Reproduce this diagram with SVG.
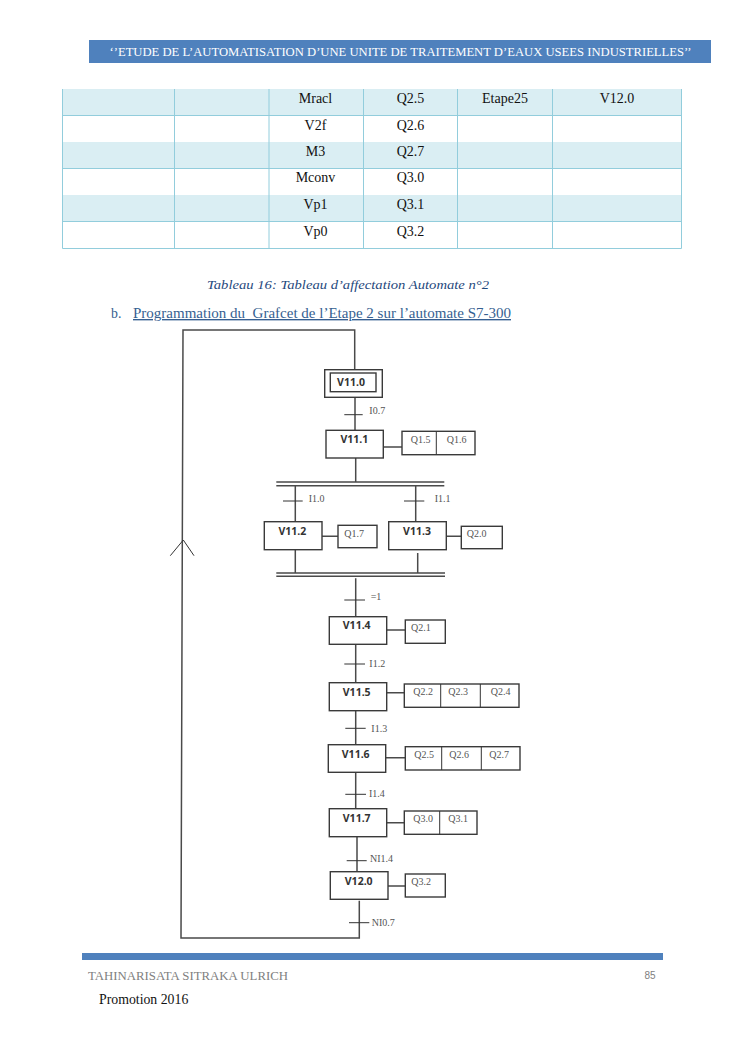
<svg xmlns="http://www.w3.org/2000/svg" width="745" height="1053" viewBox="0 0 745 1053">
<style>
text{font-family:"Liberation Serif","Times New Roman",serif}
.cell{font-size:14px;fill:#111;text-anchor:middle}
.g{fill:none;stroke:#92cddc;stroke-width:1}
.l{fill:none;stroke:#4a4a4a;stroke-width:1.5}
.t{fill:none;stroke:#333;stroke-width:1}
.b{fill:#fff;stroke:#3a3a3a;stroke-width:1.4}
.s{font-family:"Noto Sans",Verdana,sans-serif;font-size:10.500px;font-weight:700;fill:#333;text-anchor:middle}
.q{font-size:10px;fill:#555}
</style>
<rect width="745" height="1053" fill="#fff"/>
<g id="header">
<rect x="89" y="40" width="622" height="23" fill="#4f81bd"/>
<text x="109.500" y="56" font-size="12.500" fill="#fff" textLength="582" lengthAdjust="spacingAndGlyphs">‘’ETUDE DE L’AUTOMATISATION D’UNE UNITE DE TRAITEMENT D’EAUX USEES INDUSTRIELLES’’</text>
</g>
<g id="table">
<rect x="62.500" y="89" width="619" height="26.500" fill="#daeef3"/>
<rect x="62.500" y="142" width="619" height="26.500" fill="#daeef3"/>
<rect x="62.500" y="195" width="619" height="26.500" fill="#daeef3"/>
<path class="g" d="M62.500 89V248.500H681.500V89M174.500 89V248.500M269 89V248.500M363.500 89V248.500M457.500 89V248.500M552.500 89V248.500M62.500 115.500H681.500M62.500 168.500H681.500M62.500 221.500H681.500"/>
<text class="cell" x="315.500" y="103">Mracl</text><text class="cell" x="410.500" y="103">Q2.5</text><text class="cell" x="505" y="103">Etape25</text><text class="cell" x="617" y="103">V12.0</text>
<text class="cell" x="315.500" y="129.500">V2f</text><text class="cell" x="410.500" y="129.500">Q2.6</text>
<text class="cell" x="315.500" y="156">M3</text><text class="cell" x="410.500" y="156">Q2.7</text>
<text class="cell" x="315.500" y="182">Mconv</text><text class="cell" x="410.500" y="182">Q3.0</text>
<text class="cell" x="315.500" y="209">Vp1</text><text class="cell" x="410.500" y="209">Q3.1</text>
<text class="cell" x="315.500" y="235.500">Vp0</text><text class="cell" x="410.500" y="235.500">Q3.2</text>
</g>
<text id="caption" x="207" y="289" font-size="12.500" font-style="italic" fill="#1f497d" textLength="282" lengthAdjust="spacingAndGlyphs">Tableau 16: Tableau d’affectation Automate n°2</text>
<g id="heading" font-size="13.800" fill="#365f91">
<text x="111" y="318">b.</text>
<text x="133" y="318" textLength="378" lengthAdjust="spacingAndGlyphs" text-decoration="underline" xml:space="preserve">Programmation du  Grafcet de l’Etape 2 sur l’automate S7-300</text>
</g>
<g id="connectors">
<path class="l" d="M355 397V430M355.700 458V482M295.300 486V521.700M415.700 486V521.700M295.300 549.700V573M417.700 553V573M355.700 578.300V616.700M355.700 644.300V682.700M355.700 710.700V744.700M355.700 772.300V808.700M357 836.700V871.700"/>
<path class="l" d="M354.700 369.700V330H183L181 938H359.300V900.700"/>
<path class="t" d="M183.300 540L170.300 555.700M183.300 540L194 555.700"/>
<path class="t" d="M344.300 414.700H362.700M283 501H302.700M404 501H424.300M344.300 600H365M344.300 664H365M345.300 728.300H365.700M345.300 794.300H366M346.700 860.700H366.700M349 922.700H369.300"/>
<path class="l" d="M383.300 447H402M322 536.300H338M446.300 536.300H461.300M386.700 630H405.300M386.700 692.700H404.300M385.700 757.700H405.300M386.700 822.700H404.300M388 886H405.300"/>
<path class="l" d="M276.300 482H444.300M276.300 485.700H444.300M276.300 573H445M276.300 576.300H445"/>
</g>
<g id="V11.0"><rect class="b" x="324.700" y="369.700" width="57.600" height="27.600"/><rect class="b" x="330.300" y="373" width="45.700" height="18.700"/><text class="s" x="351" y="386">V11.0</text></g>
<g id="V11.1"><rect class="b" x="326" y="430.300" width="57.300" height="27.700"/><text class="s" x="354.300" y="443">V11.1</text></g>
<g id="A11.1"><rect class="b" x="402" y="431.300" width="73" height="23.400"/><path class="t" d="M436.300 431.300V454.700"/><text class="q" x="410.700" y="442.700">Q1.5</text><text class="q" x="446.700" y="442.700">Q1.6</text></g>
<g id="V11.2"><rect class="b" x="264.300" y="521.700" width="57.700" height="28"/><text class="s" x="292.300" y="535">V11.2</text></g>
<g id="A11.2"><rect class="b" x="338" y="525.300" width="39" height="22.400"/><text class="q" x="344.300" y="536.700">Q1.7</text></g>
<g id="V11.3"><rect class="b" x="388.700" y="521.700" width="57.600" height="28"/><text class="s" x="417" y="535">V11.3</text></g>
<g id="A11.3"><rect class="b" x="461.300" y="526.300" width="41" height="22.400"/><text class="q" x="466.700" y="537.300">Q2.0</text></g>
<g id="V11.4"><rect class="b" x="329.300" y="616.700" width="57.400" height="27.600"/><text class="s" x="356.700" y="629.300">V11.4</text></g>
<g id="A11.4"><rect class="b" x="405.300" y="620" width="40" height="23.300"/><text class="q" x="411" y="631">Q2.1</text></g>
<g id="V11.5"><rect class="b" x="329.300" y="682.700" width="57.400" height="28"/><text class="s" x="356.700" y="696">V11.5</text></g>
<g id="A11.5"><rect class="b" x="404.300" y="684" width="114.700" height="23.300"/><path class="t" d="M440.700 684V707.300M480.300 684V707.300"/><text class="q" x="413.300" y="695">Q2.2</text><text class="q" x="448.300" y="695">Q2.3</text><text class="q" x="490.700" y="695">Q2.4</text></g>
<g id="V11.6"><rect class="b" x="328.300" y="744.700" width="57.400" height="27.600"/><text class="s" x="355.700" y="757.700">V11.6</text></g>
<g id="A11.6"><rect class="b" x="405.300" y="746.700" width="114.700" height="23.300"/><path class="t" d="M441.700 746.700V770M481.300 746.700V770"/><text class="q" x="414.300" y="757.700">Q2.5</text><text class="q" x="449.300" y="757.700">Q2.6</text><text class="q" x="489.300" y="757.700">Q2.7</text></g>
<g id="V11.7"><rect class="b" x="329.300" y="808.700" width="57.400" height="28"/><text class="s" x="356.700" y="821.700">V11.7</text></g>
<g id="A11.7"><rect class="b" x="404.300" y="811" width="72.700" height="23.300"/><path class="t" d="M439.700 811V834.300"/><text class="q" x="413.300" y="822">Q3.0</text><text class="q" x="448.300" y="822">Q3.1</text></g>
<g id="V12.0"><rect class="b" x="330.300" y="871.700" width="57.700" height="27.600"/><text class="s" x="358.700" y="885">V12.0</text></g>
<g id="A12.0"><rect class="b" x="405.300" y="874" width="40" height="23"/><text class="q" x="411.300" y="885">Q3.2</text></g>
<g id="labels">
<text class="q" x="369.300" y="414">I0.7</text><text class="q" x="308.700" y="501.700">I1.0</text><text class="q" x="434.700" y="501.700">I1.1</text><text class="q" x="370.700" y="600">=1</text><text class="q" x="369.300" y="667">I1.2</text><text class="q" x="371.300" y="732.300">I1.3</text><text class="q" x="369" y="797.300">I1.4</text><text class="q" x="370" y="862">NI1.4</text><text class="q" x="371.700" y="926">NI0.7</text>
</g>
<g id="footer">
<rect x="82" y="953" width="581" height="7" fill="#4f81bd"/>
<text x="88" y="980" font-size="13" fill="#808080" textLength="200" lengthAdjust="spacingAndGlyphs">TAHINARISATA SITRAKA ULRICH</text>
<text x="644.500" y="978.500" font-size="10" fill="#808080" style="font-family:'Liberation Sans',sans-serif">85</text>
<text x="99" y="1004" font-size="13.800" fill="#111">Promotion 2016</text>
</g>
</svg>
